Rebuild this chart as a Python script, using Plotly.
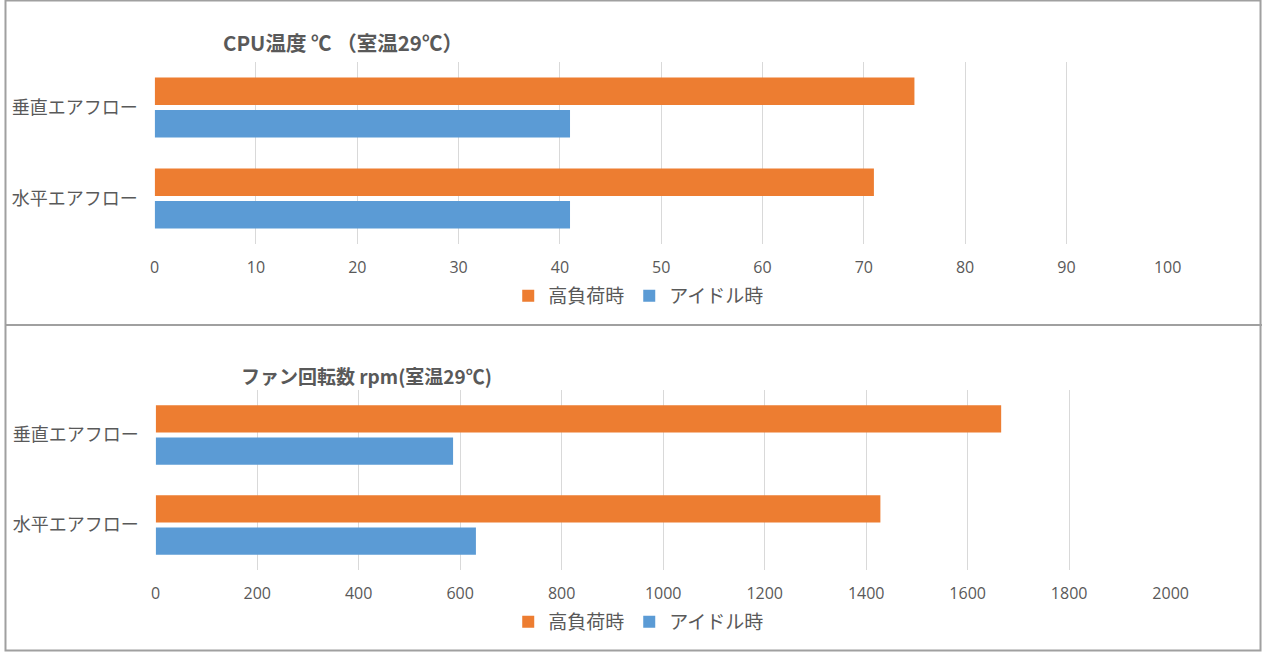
import plotly.graph_objects as go

categories = ["垂直エアフロー", "水平エアフロー"]
series_names = ["高負荷時", "アイドル時"]
cpu_high = [75, 71]
cpu_idle = [41, 41]
fan_high = [1666, 1428]
fan_idle = [586, 631]
cpu_ticks = [0, 10, 20, 30, 40, 50, 60, 70, 80, 90, 100]
fan_ticks = [0, 200, 400, 600, 800, 1000, 1200, 1400, 1600, 1800, 2000]
title_cpu = "CPU温度 ℃ （室温29℃）"
title_fan = "ファン回転数 rpm(室温29℃)"

ORANGE = "#ED7D31"
BLUE = "#5B9BD5"
TXT = "#595959"
FONT = "Noto Sans CJK JP"
NUMFONT = "Open Sans"
W, H = 1280, 652


def px(p):
    # horizontal pixel position -> paper fraction
    return ((p - 4) / 0.984) / W


def py(p):
    return 1 - p / H


fig = go.Figure()
fig.add_trace(go.Bar(y=categories, x=cpu_high, orientation="h", name=series_names[0],
                     marker=dict(color=ORANGE, line=dict(width=0)), xaxis="x", yaxis="y", legend="legend"))
fig.add_trace(go.Bar(y=categories, x=cpu_idle, orientation="h", name=series_names[1],
                     marker=dict(color=BLUE, line=dict(width=0)), xaxis="x", yaxis="y", legend="legend"))
fig.add_trace(go.Bar(y=categories, x=fan_high, orientation="h", name=series_names[0],
                     marker=dict(color=ORANGE, line=dict(width=0)), xaxis="x2", yaxis="y2", legend="legend2"))
fig.add_trace(go.Bar(y=categories, x=fan_idle, orientation="h", name=series_names[1],
                     marker=dict(color=BLUE, line=dict(width=0)), xaxis="x2", yaxis="y2", legend="legend2"))

xcommon = dict(showgrid=True, gridcolor="#D9D9D9", gridwidth=1, zeroline=False, showline=False,
               tickfont=dict(family=NUMFONT, size=16, color=TXT), ticklabelstandoff=12, ticks="")
ycommon = dict(showgrid=False, zeroline=False, showline=False, type="category",
               tickfont=dict(family=FONT, size=18, color=TXT), ticklabelstandoff=16, ticks="")

legcommon = dict(orientation="h", x=px(639), xanchor="center", yanchor="middle",
                 font=dict(family=FONT, size=19, color=TXT), bgcolor="rgba(0,0,0,0)",
                 itemwidth=30, tracegroupgap=0)

fig.update_layout(
    width=W, height=H, autosize=False,
    margin=dict(l=0, r=0, t=0, b=0),
    paper_bgcolor="white", plot_bgcolor="white",
    barmode="group", bargap=0.286, bargroupgap=0.15,
    font=dict(family=FONT, color=TXT),
    xaxis=dict(domain=[px(154), px(1169)], range=[0, 100], tickvals=cpu_ticks, anchor="y", **xcommon),
    yaxis=dict(domain=[py(244), py(62)], range=[1.5, -0.5], anchor="x", **ycommon),
    xaxis2=dict(domain=[px(155), px(1172)], range=[0, 2000], tickvals=fan_ticks, anchor="y2", **xcommon),
    yaxis2=dict(domain=[py(570), py(390)], range=[1.5, -0.5], anchor="x2", **ycommon),
    legend=dict(y=py(296), **legcommon),
    legend2=dict(y=py(622), **legcommon),
    annotations=[
        dict(text="<b>" + title_cpu + "</b>", x=px(343), y=py(42), xref="paper", yref="paper",
             xanchor="center", yanchor="middle", showarrow=False, font=dict(family=FONT, size=20.5, color=TXT)),
        dict(text="<b>" + title_fan + "</b>", x=px(366), y=py(375), xref="paper", yref="paper",
             xanchor="center", yanchor="middle", showarrow=False, font=dict(family=FONT, size=19, color=TXT)),
    ],
    shapes=[
        dict(type="rect", xref="paper", yref="paper", x0=0.5 / W, x1=1 - 1.5 / W, y0=1.5 / H, y1=1 - 0.5 / H,
             line=dict(color="#A0A0A0", width=2), fillcolor="rgba(0,0,0,0)"),
        dict(type="line", xref="paper", yref="paper", x0=0, x1=1, y0=py(325), y1=py(325),
             line=dict(color="#A0A0A0", width=2)),
    ],
)

post = "document.body.style.margin='0';document.body.style.overflow='hidden';"

fig.write_html("out.html", config={"responsive": False, "displayModeBar": False}, post_script=post)
